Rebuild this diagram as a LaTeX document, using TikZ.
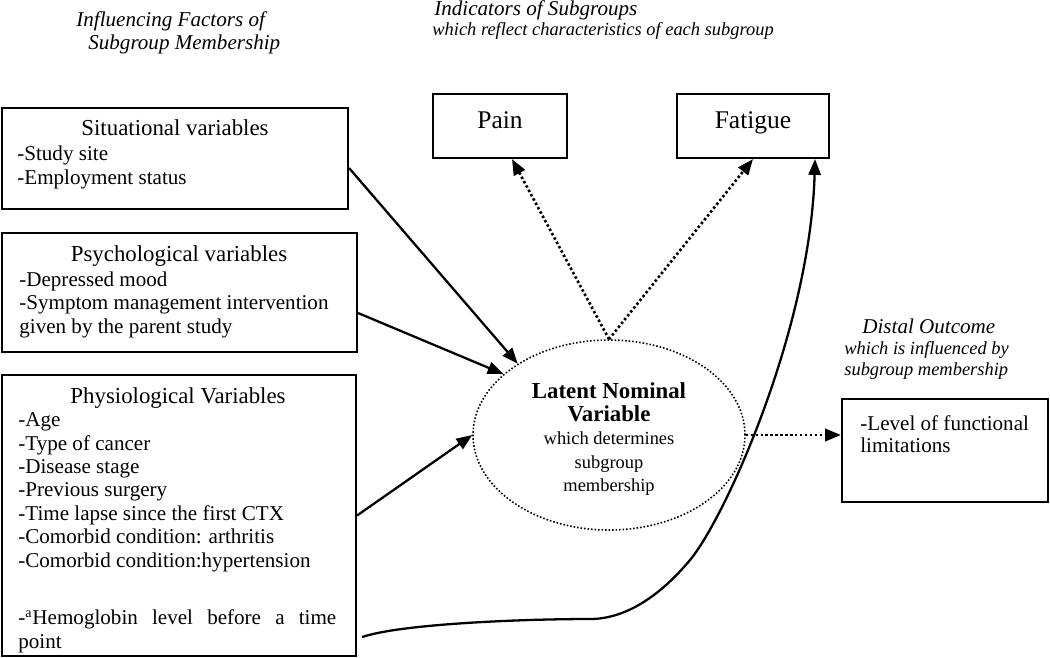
\documentclass[tikz,border=0pt]{standalone}
\usepackage{fontspec}
\setmainfont{Liberation Serif}
\usetikzlibrary{arrows.meta,shapes.geometric,calc,fit}

\newcommand\latbf[1]{{\fontsize{13}{13.3}\selectfont\bfseries #1}}

\begin{document}
\begin{tikzpicture}[x=0.02cm, y=-0.02cm,
		box/.style={draw, line width=1.2pt, inner sep=0},
		boxtitle/.style={font=\fontsize{13}{14}\selectfont, anchor=base, inner sep=0},
		items/.style={font=\fontsize{12}{13.3}\selectfont, align=left, anchor=base west, inner sep=0},
		head/.style={font=\fontsize{12}{13}\selectfont\itshape, align=left, anchor=base west, inner sep=0},
		subhead/.style={font=\fontsize{10.5}{11.4}\selectfont\itshape, align=left, anchor=base west, inner sep=0},
		arr/.style={-{Triangle[length=9pt,width=7pt]}, line width=1.3pt},
		dotarr/.style={arr, line width=1.5pt, dash pattern=on 1.4pt off 1.4pt}]
		\useasboundingbox (0, 0) rectangle (1050, 657);

		% headings (multi-line texts sit on the baseline of their last line)
		\node[head] (hdfac) at (76, 49) {Influencing Factors of\\\hspace*{0.24cm}Subgroup Membership};
		\node[head] (hdind) at (434, 15) {Indicators of Subgroups};
		\node[subhead] (hdind2) at (432, 35) {which reflect characteristics of each subgroup};
		\node[head] (hddis) at (862, 333) {Distal Outcome};
		\node[subhead] (hddis2) at (844, 375) {which is influenced by\\subgroup membership};

		% influencing factors
		\node[box, fit={(2, 108) (348, 209)}] (sit) {};
		\node[boxtitle] (sittl) at (175, 135) {Situational variables};
		\node[items] (sitls) at (17, 184) {-Study site\\-Employment status};

		\node[box, fit={(2, 233) (357, 352)}] (psy) {};
		\node[boxtitle] (psytl) at (179, 261) {Psychological variables};
		\node[items] (psyls) at (19, 333) {-Depressed mood\\-Symptom management intervention\\given by the parent study};

		\node[box, fit={(2, 375) (356, 656)}] (phy) {};
		\node[boxtitle] (phytl) at (178, 403) {Physiological Variables};
		\node[items] (phyls) at (18, 567) {-Age\\-Type of cancer\\-Disease stage\\-Previous surgery\\-Time lapse since the first CTX\\-Comorbid condition: arthritis\\-Comorbid condition:hypertension};
		\node[items] (phyhb) at (18, 648) {\makebox[6.36cm][s]{-\textsuperscript{a}Hemoglobin level before a time}\\point};

		% indicators and outcome
		\node[box, fit={(433, 94) (567, 158)}] (pain) {};
		\node[boxtitle, font=\fontsize{14.5}{16}\selectfont] (paintx) at (500, 128) {Pain};
		\node[box, fit={(677, 94) (829, 158)}] (fat) {};
		\node[boxtitle, font=\fontsize{14.5}{16}\selectfont] (fattx) at (753, 128) {Fatigue};
		\node[box, fit={(842, 399) (1048, 502)}] (out) {};
		\node[items, font=\fontsize{12}{12.5}\selectfont] (outtx) at (860, 452) {-Level of functional\\limitations};

		% latent variable
		\node[ellipse, draw, line width=0.9pt, dash pattern=on 0.9pt off 1.1pt, inner sep=0,
			minimum width=272*0.02cm, minimum height=190*0.02cm] (lat) at (609, 435) {};
		\node[align=center, inner sep=0, font=\fontsize{10.5}{13.3}\selectfont] (lattx) at (609, 439) {\latbf{Latent Nominal}\\\latbf{Variable}\\which determines\\subgroup\\membership};

		\draw[arr] ($(sit.east)+(0, 9.5)$) -- (lat.142);
		\draw[arr] ($(psy.east)+(0, 20.5)$) -- (lat.150);
		\draw[arr] (phy.east) -- (lat.west);

		\draw[dotarr] (lat.north) -- ($(pain.south)+(12, 0)$);
		\draw[dotarr] (lat.north) -- (fat.south);
		\draw[dotarr] (lat.east) -- (lat.east -| out.west);

		\coordinate (hbstart) at ($(phy.south east)+(5, -20)$);
		\draw[arr] (hbstart) .. controls (400, 624) and (520, 619) .. (590, 619)
			.. controls (630, 619) and (665, 590) .. (690, 560)
			.. controls (725, 518) and (810, 330) .. ($(fat.south east)+(-15, 0)$);
\end{tikzpicture}
\end{document}
